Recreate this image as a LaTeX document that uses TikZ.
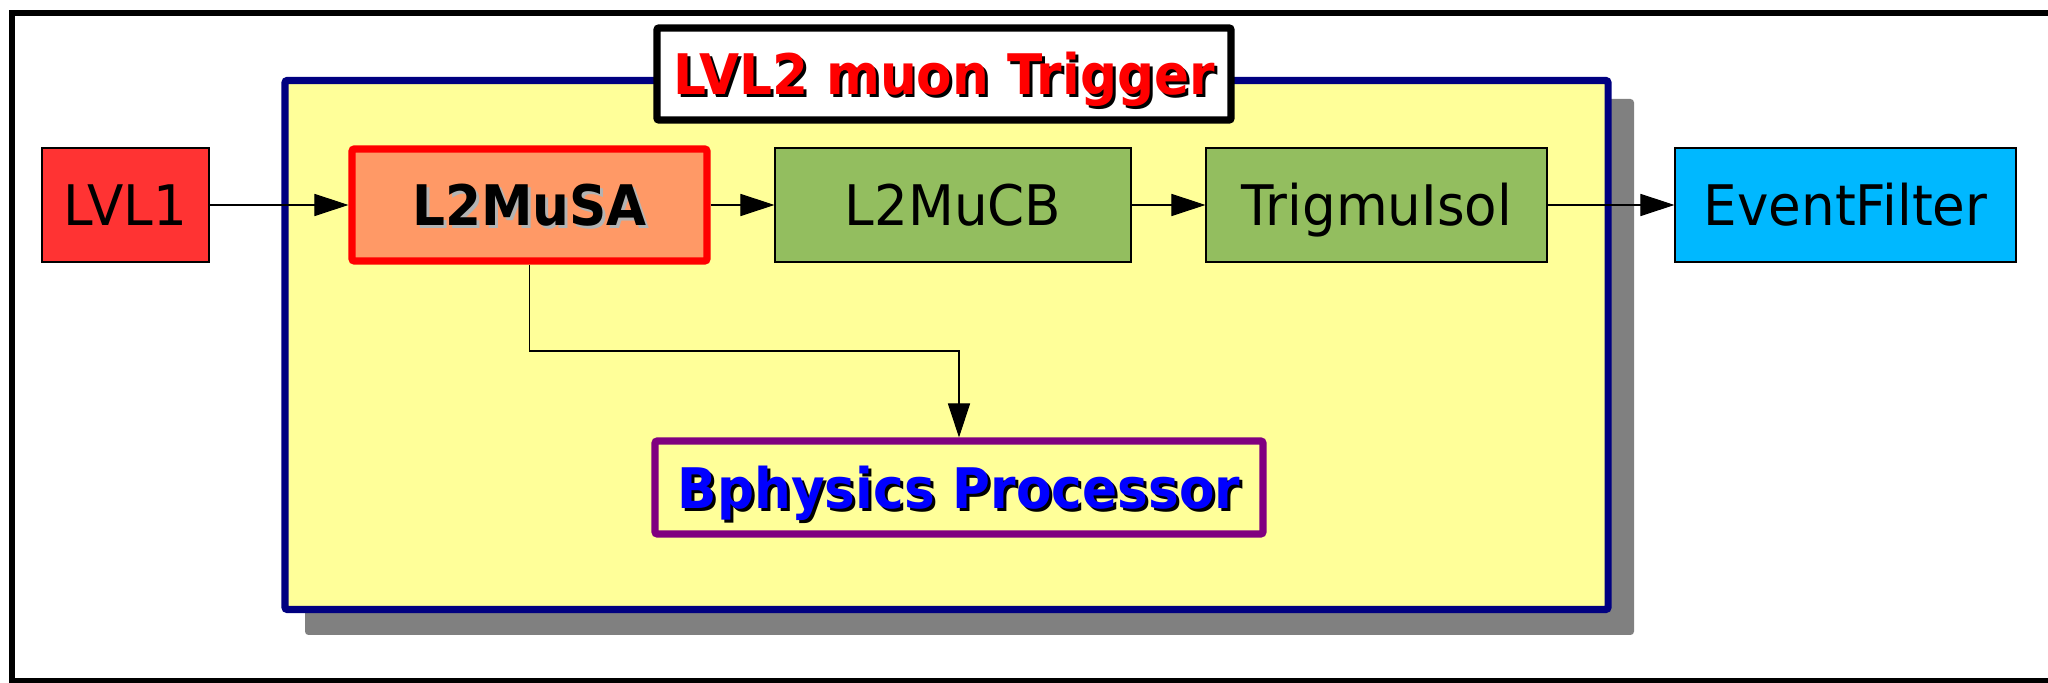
\documentclass[tikz,border=0pt]{standalone}
\usepackage{fontspec}
\setmainfont{DejaVu Sans}[FakeStretch=0.95]
\newfontfamily\boldf{DejaVu Sans}[FakeStretch=0.925]
\usetikzlibrary{arrows.meta}
\definecolor{ylw}{HTML}{FFFF99}
\definecolor{navyc}{HTML}{000080}
\definecolor{shadowgray}{HTML}{808080}
\definecolor{lvlred}{HTML}{FF3333}
\definecolor{saorange}{HTML}{FF9966}
\definecolor{grn}{HTML}{93BE5F}
\definecolor{efblue}{HTML}{00B8FF}
\definecolor{purp}{HTML}{800080}
\definecolor{lgray}{HTML}{B3B3B3}
\newcommand\shtext[2]{\leavevmode\rlap{\kern0.85pt\raisebox{-0.85pt}{\color{#1}#2}}#2}
\begin{document}
\begin{tikzpicture}[x=0.01cm,y=-0.01cm,
  every node/.style={font=\fontsize{15.9pt}{19pt}\selectfont, inner sep=0pt, text height=11.7pt, text depth=0pt},
  procbox/.style={draw=black, line width=0.3pt, rectangle},
  flow/.style={-{Triangle[length=9.7pt,width=6.3pt]}, line width=0.3pt, black},
  thickbox/.style={rectangle, line width=2pt, rounded corners=0.6pt}]
\useasboundingbox (0,0) rectangle (2048,683);
% outer frame (its right side lies beyond the picture)
\draw[line width=1.7pt] (2048,13) -- (12,13) -- (12,681) -- (2048,681);
% shadow and yellow container
\fill[shadowgray, rounded corners=1pt] (305,99) rectangle (1634,635);
\draw[navyc, fill=ylw, line width=2pt, rounded corners=0.6pt] (285,80.5) rectangle (1608,609.5);
% title
\node[thickbox, draw=black, fill=white, line width=2.1pt, minimum width=574*0.01cm, minimum height=92*0.01cm] (title) at (944,74)
  {\boldf\bfseries\color{red}\shtext{black}{LVL2 muon Trigger}};
% process boxes
\node[procbox, fill=lvlred, minimum width=167*0.01cm, minimum height=114*0.01cm] (lvl1) at (125.5,205) {LVL1};
\node[thickbox, draw=red, fill=saorange, minimum width=355*0.01cm, minimum height=112*0.01cm] (musa) at (529.5,205)
  {\boldf\bfseries\shtext{lgray}{L2MuSA}};
\node[procbox, fill=grn, minimum width=356*0.01cm, minimum height=114*0.01cm] (mucb) at (953,205) {L2MuCB};
\node[procbox, fill=grn, minimum width=341*0.01cm, minimum height=114*0.01cm] (isol) at (1376.5,205) {TrigmuIsol};
\node[procbox, fill=efblue, minimum width=341*0.01cm, minimum height=114*0.01cm] (ef) at (1845.5,205) {EventFilter};
\node[thickbox, draw=purp, fill=ylw, minimum width=608*0.01cm, minimum height=93*0.01cm] (bphys) at (959,487.5)
  {\boldf\bfseries\color{blue}\shtext{black}{Bphysics Processor}};
% connectors
\draw[flow] (lvl1.east) -- (musa.west);
\draw[flow] (musa.east) -- (mucb.west);
\draw[flow] (mucb.east) -- (isol.west);
\draw[flow] (isol.east) -- (ef.west);
\coordinate (bend) at (959,351);
\draw[flow] (musa.south) |- (bend) -- (bphys.north);
\end{tikzpicture}
\end{document}
